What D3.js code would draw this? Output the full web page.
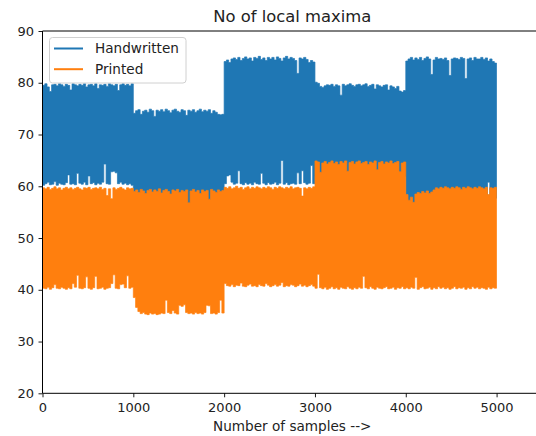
<!DOCTYPE html>
<html>
<head>
<meta charset="utf-8">
<script src="https://cdn.jsdelivr.net/npm/d3@7"></script>
<style>
  html, body { margin: 0; padding: 0; background: #fff; }
  svg { display: block; font-family: "DejaVu Sans", sans-serif; }
</style>
</head>
<body>
<svg id="chart" width="536" height="436"></svg>
<script>
// Per-bin envelope (max / min) of each series, one value per 25 samples.
const binSize = 25;
const lastSample = 4999;

const handwrittenHigh = [
  79.5, 79.8, 79.2, 78.3, 79.6, 79.7, 79.4, 79.8, 79.6, 79.3, 79.7, 79.5, 78.6, 79.8, 79.6, 79.4, 79.7, 79.5, 79.8, 79.2,
  79.6, 79.7, 79.4, 79.8, 78.9, 79.6, 79.5, 79.7, 79.3, 79.8, 79.6, 79.4, 79.7, 78.5, 79.6, 79.8, 79.5, 79.7, 79.4, 79.8,
  74.1, 74.6, 74.8, 73.9, 74.5, 74.7, 74.3, 74.9, 74.6, 73.5, 74.7, 74.5, 74.8, 74.4, 74.9, 74.6, 74.2, 74.7, 74.9, 74.5,
  74.3, 74.8, 74.6, 73.7, 74.7, 74.5, 74.8, 74.3, 74.6, 74.9, 74.4, 74.7, 74.5, 74.8, 74.1, 74.6, 74.3, 73.9, 73.8, 73.9,
  84.1, 84.4, 83.9, 84.6, 84.8, 84.5, 84.9, 84.3, 84.7, 85.0, 84.6, 84.8, 84.2, 84.9, 84.7, 85.1, 84.5, 84.8, 84.3, 84.9,
  84.6, 84.9, 84.4, 85.0, 84.7, 84.2, 84.8, 85.1, 84.6, 84.9, 84.7, 84.3, 81.8, 84.8, 84.6, 84.9, 84.5, 83.9, 84.3, 84.0,
  80.1, 79.9, 79.3, 79.1, 79.4, 79.6, 79.5, 79.7, 79.3, 79.6, 79.4, 77.6, 79.7, 79.4, 79.6, 79.8, 79.5, 79.3, 79.6, 79.7,
  79.4, 79.6, 79.8, 79.3, 79.5, 79.7, 78.8, 79.6, 79.4, 79.2, 79.5, 79.6, 78.6, 79.4, 79.2, 78.9, 79.3, 78.4, 78.2, 78.5,
  84.2, 84.6, 84.9, 84.4, 84.8, 84.5, 84.9, 84.3, 84.7, 85.0, 84.6, 81.6, 84.4, 84.9, 84.6, 84.7, 84.5, 84.8, 84.3, 81.4,
  84.6, 84.8, 84.7, 84.5, 84.9, 84.7, 80.8, 84.6, 84.8, 84.3, 84.9, 84.6, 84.6, 84.9, 84.5, 84.8, 84.2, 84.6, 84.1, 83.8
];
const handwrittenLow = [
  60.2, 60.5, 60.8, 60.3, 60.4, 60.9, 60.2, 60.6, 60.4, 60.3, 60.7, 62.2, 60.4, 60.5, 60.3, 62.5, 60.6, 60.4, 60.8, 60.3,
  62.0, 60.5, 60.7, 60.3, 60.6, 60.4, 60.8, 64.3, 60.5, 60.4, 62.8, 62.9, 62.6, 60.5, 60.8, 60.4, 60.6, 60.3, 60.5, 60.2,
  56.5, 56.3, 56.6, 56.4, 56.7, 56.5, 56.2, 56.6, 56.4, 56.7, 56.5, 56.3, 56.6, 56.4, 56.7, 56.5, 56.2, 56.6, 56.4, 56.7,
  56.5, 56.3, 56.6, 56.4, 56.2, 56.5, 56.3, 56.6, 56.4, 56.7, 56.5, 56.3, 56.6, 56.4, 56.7, 56.5, 56.2, 56.6, 56.4, 56.7,
  60.5, 62.0, 62.2, 60.8, 60.4, 60.6, 63.0, 60.5, 60.3, 60.7, 60.4, 60.6, 60.3, 60.8, 60.5, 60.4, 62.5, 60.6, 60.3, 60.7,
  60.4, 60.5, 60.8, 60.3, 60.6, 65.0, 60.4, 60.7, 60.3, 60.5, 60.6, 60.4, 62.6, 60.5, 63.0, 60.7, 60.4, 60.6, 64.0, 60.5,
  62.0, 61.8, 62.2, 61.9, 62.1, 61.7, 62.3, 62.0, 61.8, 62.1, 61.9, 62.2, 61.7, 62.0, 62.3, 61.8, 62.1, 61.9, 62.2, 62.0,
  61.8, 62.1, 61.9, 62.3, 61.7, 62.0, 62.2, 61.8, 62.1, 61.9, 62.0, 62.2, 61.8, 62.1, 61.9, 62.3, 61.7, 62.0, 62.1, 61.9,
  57.0, 56.6, 56.8, 56.5, 56.9, 57.3, 57.6, 57.4, 57.8, 57.5, 57.7, 57.9, 57.6, 57.8, 57.5, 57.9, 57.7, 57.6, 57.8, 57.5,
  57.9, 57.7, 57.6, 57.8, 57.5, 57.9, 57.7, 57.6, 57.8, 57.5, 57.9, 57.7, 57.6, 57.8, 57.5, 57.9, 60.8, 57.6, 57.8, 57.7
];
const printedHigh = [
  59.7, 59.5, 59.8, 59.4, 59.6, 59.9, 59.5, 59.7, 59.3, 59.6, 59.8, 59.5, 59.7, 59.4, 59.6, 59.8, 59.5, 59.3, 59.7, 59.6,
  59.8, 59.4, 59.6, 59.7, 59.5, 59.8, 59.4, 59.6, 58.2, 59.5, 57.6, 59.7, 59.4, 59.6, 59.8, 59.5, 59.3, 59.7, 59.5, 59.6,
  59.0, 59.3, 58.8, 59.4, 59.1, 58.6, 59.2, 59.4, 58.9, 59.3, 59.0, 59.5, 58.7, 59.2, 59.4, 59.0, 58.5, 59.3, 59.1, 59.4,
  58.8, 59.2, 59.0, 59.3, 56.8, 59.1, 59.4, 58.9, 59.2, 58.6, 59.3, 59.0, 59.2, 57.5, 59.4, 59.1, 58.8, 59.3, 59.0, 59.2,
  59.8, 59.6, 59.9, 59.5, 59.7, 60.0, 59.6, 59.8, 59.4, 59.7, 59.9, 59.5, 59.8, 59.6, 59.9, 59.7, 59.5, 59.8, 59.6, 59.9,
  59.7, 59.4, 59.8, 59.6, 59.9, 59.7, 59.5, 59.8, 59.6, 59.9, 59.5, 59.7, 59.8, 59.6, 58.1, 59.7, 59.5, 59.8, 59.6, 59.9,
  64.9, 64.7, 62.7, 64.5, 64.8, 64.3, 64.6, 64.9, 64.4, 64.7, 64.2, 64.8, 64.5, 64.9, 62.9, 64.6, 64.8, 64.3, 64.7, 64.9,
  64.4, 64.6, 64.8, 64.2, 64.7, 64.5, 64.9, 63.2, 64.6, 64.8, 64.3, 64.7, 64.5, 64.9, 64.4, 64.6, 64.8, 62.8, 64.5, 64.7,
  58.4, 57.3, 57.9, 56.9, 58.5, 58.8, 58.6, 59.0, 58.7, 59.1, 58.6, 58.9, 59.3, 59.7, 59.5, 59.8, 59.6, 59.9, 59.7, 59.5,
  59.8, 59.6, 59.9, 59.7, 59.4, 59.8, 59.6, 59.9, 59.7, 59.5, 59.8, 59.6, 59.9, 59.7, 59.5, 59.8, 58.4, 59.7, 59.6, 59.8
];
const printedLow = [
  40.3, 40.2, 40.5, 40.1, 40.4, 41.0, 40.3, 40.2, 40.5, 40.3, 40.1, 40.4, 40.2, 41.2, 40.5, 42.8, 40.3, 40.2, 40.4, 42.5,
  40.3, 40.1, 40.4, 42.6, 40.2, 40.3, 40.5, 40.1, 40.3, 40.4, 41.2, 42.9, 40.3, 40.2, 41.0, 41.1, 40.4, 42.7, 40.3, 40.5,
  38.5, 36.6, 35.8, 35.4, 35.6, 35.3, 35.2, 35.5, 35.3, 35.4, 35.2, 35.3, 35.5, 35.4, 38.0, 35.6, 35.4, 36.0, 35.5, 35.3,
  37.0, 36.8, 37.1, 35.6, 35.4, 35.5, 35.3, 35.6, 35.4, 35.5, 35.3, 35.6, 37.0, 36.9, 35.4, 35.5, 35.3, 35.6, 38.0, 35.5,
  41.2, 40.8, 40.7, 41.0, 40.6, 40.9, 40.8, 41.3, 40.7, 40.6, 40.9, 41.1, 40.7, 40.8, 40.6, 41.0, 40.8, 40.7, 41.2, 40.9,
  40.6, 40.8, 41.0, 40.7, 40.9, 41.4, 40.6, 40.8, 40.7, 41.0, 40.9, 40.6, 40.8, 41.1, 40.7, 40.9, 40.6, 40.8, 41.0, 40.7,
  40.3, 43.0, 40.4, 40.2, 40.5, 40.1, 40.3, 40.6, 40.2, 40.4, 40.1, 40.5, 40.3, 40.2, 40.6, 40.3, 40.1, 40.4, 40.2, 40.5,
  40.3, 42.6, 40.4, 40.2, 40.6, 40.3, 40.1, 40.5, 40.3, 40.2, 40.4, 40.6, 40.2, 40.3, 40.5, 40.1, 40.4, 40.3, 40.6, 40.2,
  40.4, 40.2, 40.5, 40.3, 42.4, 40.1, 40.4, 40.6, 40.2, 40.3, 40.5, 40.1, 40.4, 40.2, 40.6, 40.3, 40.5, 40.2, 40.4, 40.1,
  40.3, 40.6, 40.2, 40.4, 40.3, 40.5, 40.1, 40.4, 40.2, 40.6, 40.3, 40.5, 40.2, 40.4, 40.3, 40.1, 40.5, 40.2, 40.4, 40.3
];

const seriesNames = ["Handwritten", "Printed"];
const seriesColors = ["#1f77b4", "#ff7f0e"];
const xTicks = [0, 1000, 2000, 3000, 4000, 5000];
const yTicks = [20, 30, 40, 50, 60, 70, 80, 90];
const titleText = "No of local maxima";
const xLabelText = "Number of samples -->";

const svg = d3.select("#chart");
const plotLeft = 42.5, plotRight = 542, plotTop = 31, plotBottom = 393.3;

const x = d3.scaleLinear().domain([0, 5500]).range([plotLeft, plotRight]);
const y = d3.scaleLinear().domain([20, 90]).range([plotBottom, plotTop]);

svg.append("defs").append("clipPath").attr("id", "plot-clip")
  .append("rect").attr("x", plotLeft).attr("y", plotTop)
  .attr("width", plotRight - plotLeft).attr("height", plotBottom - plotTop);

function envelope(high, low) {
  const pts = high.map((h, i) => ({ s: i * binSize, hi: h, lo: low[i] }));
  pts.push({ s: lastSample, hi: high[high.length - 1], lo: low[low.length - 1] });
  return pts;
}

const area = d3.area()
  .x(d => x(d.s))
  .y0(d => y(d.lo))
  .y1(d => y(d.hi))
  .curve(d3.curveStepAfter);

const plot = svg.append("g").attr("clip-path", "url(#plot-clip)");
const series = [
  envelope(handwrittenHigh, handwrittenLow),
  envelope(printedHigh, printedLow)
];
series.forEach((pts, i) => {
  plot.append("path")
    .attr("d", area(pts))
    .attr("fill", seriesColors[i])
    .attr("stroke", seriesColors[i])
    .attr("stroke-width", 0.7);
});

// Axes
const xAxis = d3.axisBottom(x).tickValues(xTicks).tickSize(4).tickPadding(5.5)
  .tickFormat(d3.format("d"));
const gx = svg.append("g").attr("transform", `translate(0,${plotBottom})`).call(xAxis);
const yAxis = d3.axisLeft(y).tickValues(yTicks).tickSize(4).tickPadding(4.5)
  .tickFormat(d3.format("d"));
const gy = svg.append("g").attr("transform", `translate(${plotLeft},0)`).call(yAxis);
[gx, gy].forEach(g => {
  g.select(".domain").remove();
  g.selectAll(".tick line").attr("stroke", "#000").attr("stroke-width", 0.9);
  g.selectAll(".tick text").attr("fill", "#222").style("font-size", "13px")
    .style("font-family", "'DejaVu Sans', sans-serif");
});

// Spines (right spine lies beyond the visible area)
svg.append("line").attr("x1", plotLeft).attr("x2", plotLeft).attr("y1", plotTop).attr("y2", plotBottom)
  .attr("stroke", "#000").attr("stroke-width", 1);
svg.append("line").attr("x1", plotLeft).attr("x2", 536).attr("y1", plotBottom).attr("y2", plotBottom)
  .attr("stroke", "#000").attr("stroke-width", 1);
svg.append("line").attr("x1", plotLeft).attr("x2", 536).attr("y1", plotTop).attr("y2", plotTop)
  .attr("stroke", "#000").attr("stroke-width", 1);

// Title and axis label
const cx = (plotLeft + plotRight) / 2;
svg.append("text").attr("x", cx).attr("y", 21.7).attr("text-anchor", "middle")
  .attr("fill", "#222").style("font-size", "16.4px").text(titleText);
svg.append("text").attr("x", cx).attr("y", 430.5).attr("text-anchor", "middle")
  .attr("fill", "#222").style("font-size", "13.6px").text(xLabelText);

// Legend
const lg = svg.append("g");
lg.append("rect").attr("x", 49.5).attr("y", 37.5).attr("width", 136.5).attr("height", 45.5)
  .attr("rx", 3).attr("fill", "#fff").attr("fill-opacity", 0.8)
  .attr("stroke", "#d0d0d0").attr("stroke-width", 1);
seriesNames.forEach((name, i) => {
  const ly = 48.5 + i * 20.7;
  lg.append("line").attr("x1", 54).attr("x2", 83).attr("y1", ly).attr("y2", ly)
    .attr("stroke", seriesColors[i]).attr("stroke-width", 2);
  lg.append("text").attr("x", 95).attr("y", ly + 4.8).attr("fill", "#222")
    .style("font-size", "13.6px").text(name);
});
</script>
</body>
</html>
